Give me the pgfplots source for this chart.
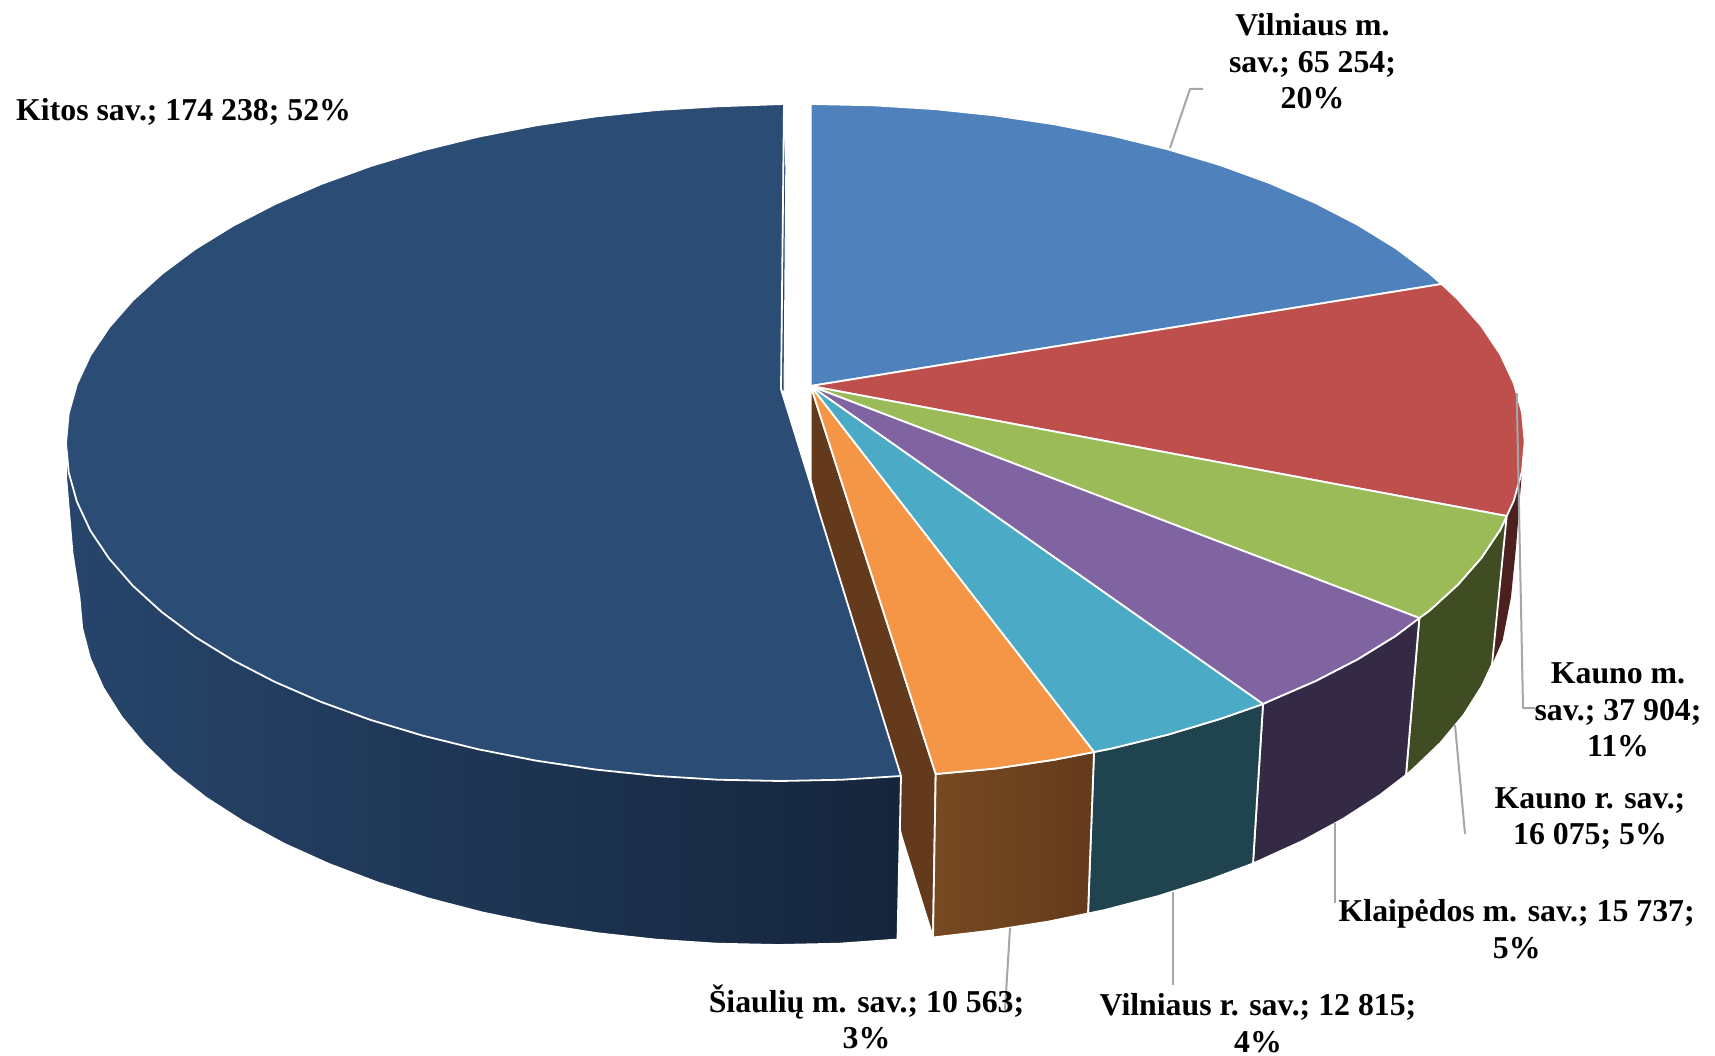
\documentclass[border=0pt]{standalone}
\usepackage{pgfplots}
\pgfplotsset{compat=1.18}
\usepackage{fontspec}
\setmainfont{Liberation Serif}

\definecolor{cblue}{HTML}{4F81BD}
\definecolor{cred}{HTML}{BE4F4C}
\definecolor{cgreen}{HTML}{9BBB59}
\definecolor{cpurple}{HTML}{8063A1}
\definecolor{cteal}{HTML}{4BAAC5}
\definecolor{corange}{HTML}{F59646}
\definecolor{cnavy}{HTML}{2B4C74}
\definecolor{sred}{HTML}{4D2020}
\definecolor{sgreen}{HTML}{404C22}
\definecolor{spurple}{HTML}{342A45}
\definecolor{steal}{HTML}{1F444F}
\definecolor{sbrown}{HTML}{633A1B}
\definecolor{sbrownl}{HTML}{774A22}
\definecolor{snavyl}{HTML}{27456B}
\definecolor{snavyr}{HTML}{15253C}
\definecolor{leader}{HTML}{A6A6A6}

\begin{document}
\begin{tikzpicture}
\begin{axis}[
	scale only axis,
	width=1715pt,
	height=1056pt,
	xmin=0,xmax=1715,
	ymin=0,ymax=1056,
	y dir=reverse,
	hide axis,
	clip=false,
	every axis plot/.append style={line join=round},
]
% keep the page as large as the reference
\path (axis cs:0,0) rectangle (axis cs:1715,1056);

% inner wall of the pulled out slice
\addplot[fill=sbrown,draw=white,line width=1.8pt] coordinates {
	(810.7,386) (935.7,774) (933,937.5) (902,838) (810.7,480)} --cycle;
\addplot[fill=snavyl,draw=white,line width=1pt] coordinates {
	(785.8,167) (784,393) (781,389) (784,104)} --cycle;

% side faces
\addplot[fill=sred,draw=none] coordinates {
	(1506.7,516) (1513.8,500.7) (1521.7,475) (1516,547) (1511,597) (1502.7,640) (1492,664.5)} --cycle;
\addplot[fill=sgreen,draw=white,line width=1.8pt] coordinates {
	(1506.7,516) (1500.4,529.5) (1481.6,557.6) (1457.8,584.8) (1429,611) (1419.3,618)
	(1406,775) (1412.6,769.5) (1440.6,742.7) (1463.8,714.8) (1482,686) (1492,664.5)} --cycle;
\addplot[fill=spurple,draw=white,line width=1.8pt] coordinates {
	(1419.3,618) (1395.6,635.9) (1357.6,659.3) (1315.6,681) (1269.7,700.9) (1263,704)
	(1253,863.5) (1257.4,861.5) (1302.1,841.2) (1343.1,818.9) (1380,795) (1406,775)} --cycle;
\addplot[fill=steal,draw=white,line width=1.8pt] coordinates {
	(1263,704) (1220.2,718.9) (1167.7,734.7) (1112.4,748.3) (1094,752)
	(1088,913.5) (1104.4,910.1) (1158.2,896.1) (1209.3,879.9) (1253,863.5)} --cycle;
\addplot[left color=sbrownl,right color=sbrown,draw=white,line width=1.8pt] coordinates {
	(1094,752) (1054.9,759.6) (995.5,768.5) (935.7,774)
	(933,937.5) (990.6,930.7) (1048.4,921.6) (1088,913.5)} --cycle;

% top faces
\addplot[fill=cblue,draw=white,line width=1.8pt] coordinates {
	(810.7,386) (810.7,104) (873,105.3) (934.7,109.1) (995.5,115.5) (1054.9,124.4)
	(1112.4,135.7) (1167.7,149.3) (1220.2,165.1) (1269.7,183.1) (1315.6,203)
	(1357.6,224.7) (1395.6,248.1) (1429,273) (1441.6,284)} --cycle;
\addplot[fill=cred,draw=white,line width=1.8pt] coordinates {
	(810.7,386) (1441.6,284) (1457.8,299.2) (1481.6,326.4) (1500.4,354.5) (1513.8,383.3)
	(1522,412.5) (1524.7,442) (1522,471.5) (1513.8,500.7) (1506.7,516)} --cycle;
\addplot[fill=cgreen,draw=white,line width=1.8pt] coordinates {
	(810.7,386) (1506.7,516) (1500.4,529.5) (1481.6,557.6) (1457.8,584.8) (1429,611) (1419.3,618)} --cycle;
\addplot[fill=cpurple,draw=white,line width=1.8pt] coordinates {
	(810.7,386) (1419.3,618) (1395.6,635.9) (1357.6,659.3) (1315.6,681) (1269.7,700.9) (1263,704)} --cycle;
\addplot[fill=cteal,draw=white,line width=1.8pt] coordinates {
	(810.7,386) (1263,704) (1220.2,718.9) (1167.7,734.7) (1112.4,748.3) (1094,752)} --cycle;
\addplot[fill=corange,draw=white,line width=1.8pt] coordinates {
	(810.7,386) (1094,752) (1054.9,759.6) (995.5,768.5) (935.7,774)} --cycle;

% big slice, side then top
\addplot[left color=snavyl,right color=snavyr,draw=white,line width=1.8pt] coordinates {
	(66,443) (66.2,478) (72.5,553) (79.5,598) (82.2,628.2) (90.1,658.6) (103.3,688) (121.6,717)
	(145,745) (173.1,771.9) (205.8,797.5) (242.9,821.4) (284,843.7) (329,864)
	(377.4,882.4) (428.8,898.6) (482.8,912.6) (539.1,924.1) (597.2,933.2) (656.6,939.7)
	(717,943.7) (778,945) (838.8,943.7) (897.5,939.5) (901,776)} --cycle;
\addplot[fill=cnavy,draw=white,line width=1.8pt] coordinates {
	(781,389) (784,104) (717.7,106.3) (656,110.1) (595.2,116.5) (535.8,125.4) (478.3,136.7)
	(423,150.3) (370.5,166.1) (321,184.1) (275.1,204) (233.1,225.7) (195.1,249.1)
	(161.7,274) (132.9,300.2) (109.1,327.4) (90.3,355.5) (76.9,384.3) (68.7,413.5) (66,443)
	(68.7,472.5) (76.9,501.7) (90.3,530.5) (109.1,558.6) (132.9,585.8) (161.7,612)
	(195.1,636.9) (233.1,660.3) (275.1,682) (321,701.9) (370.5,719.9) (423,735.7)
	(478.3,749.3) (535.8,760.6) (595.2,769.5) (656,775.9) (717.7,779.7) (780,781)
	(842.3,779.7) (901,776)} --cycle;

% leader lines
\addplot[leader,line width=2pt] coordinates {(1170,148) (1190,89) (1203,89)};
\addplot[leader,line width=2pt] coordinates {(1516.7,393) (1523,708) (1535,708)};
\addplot[leader,line width=2pt] coordinates {(1455,725) (1465,834)};
\addplot[leader,line width=2pt] coordinates {(1335,823) (1335,903)};
\addplot[leader,line width=2pt] coordinates {(1173,892) (1173,985)};
\addplot[leader,line width=2pt] coordinates {(1010,928) (1005,1010)};

% data labels
\tikzset{lab/.style={font=\fontsize{31.8}{36.5}\selectfont\bfseries,align=center,inner sep=0pt,anchor=center,text=black}}
\node[lab] at (axis cs:1312.5,61.5) {Vilniaus m.\\sav.; 65 254;\\20\%};
\node[lab,anchor=base west] at (axis cs:16,121) {Kitos sav.; 174 238; 52\%};
\node[lab] at (axis cs:1618,710) {Kauno m.\\sav.; 37 904;\\11\%};
\node[lab] at (axis cs:1590,818.5) {Kauno r. sav.;\\16 075; 5\%};
\node[lab] at (axis cs:1516.7,929) {Klaipėdos m. sav.; 15 737;\\5\%};
\node[lab] at (axis cs:1258,1023) {Vilniaus r. sav.; 12 815;\\4\%};
\node[lab] at (axis cs:866.5,1017) {Šiaulių m. sav.; 10 563;\\3\%};
\end{axis}
\end{tikzpicture}
\end{document}
